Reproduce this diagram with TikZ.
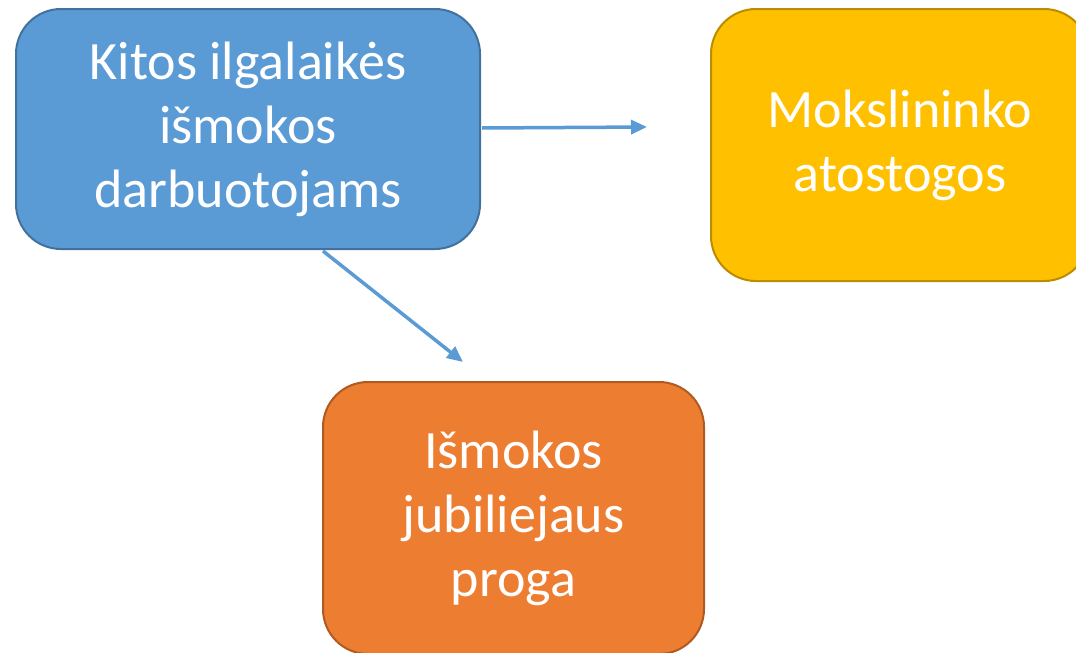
\documentclass[tikz,border=0pt]{standalone}
\usepackage{fontspec}
\setmainfont{Carlito}
\usepackage{xcolor}
\usetikzlibrary{arrows.meta}
\definecolor{bluemain}{HTML}{5B9BD5}
\definecolor{blueedge}{HTML}{41719C}
\definecolor{goldmain}{HTML}{FFC000}
\definecolor{goldedge}{HTML}{BC8C00}
\definecolor{orangemain}{HTML}{ED7D31}
\definecolor{orangeedge}{HTML}{AE5A21}
\tikzset{
    every node/.append style={font=\fontsize{54}{64}\selectfont},
    benefitbox/.style={rectangle, rounded corners=45pt, line width=2pt,
        text=white, align=center, inner sep=0pt},
    linkarrow/.style={-{Triangle[length=16pt, width=14pt]}, line width=3.5pt, color=bluemain}
}

\begin{document}
\begin{tikzpicture}[x=1pt, y=-1pt]
    \useasboundingbox (0,0) rectangle (1076,653);

    % Boxes
    \node[benefitbox, fill=bluemain, draw=blueedge, minimum width=464pt, minimum height=240pt]
        (kitos) at (248,129) {Kitos ilgalaikės\\išmokos\\darbuotojams};
    \node[benefitbox, fill=goldmain, draw=goldedge, minimum width=378pt, minimum height=272pt]
        (mokslo) at (900,145) {Mokslininko\\atostogos};
    \node[benefitbox, fill=orangemain, draw=orangeedge, minimum width=381pt, minimum height=272pt]
        (jubil) at (513.5,518) {Išmokos\\jubiliejaus\\proga};

    % Free arrow ends
    \coordinate (toMokslo) at (647,127);
    \coordinate (toJubil) at (463,362);

    % Arrows
    \draw[linkarrow] (kitos.east) ++(1,-1) -- (toMokslo);
    \draw[linkarrow] (kitos.south) ++(75,1) -- (toJubil);
\end{tikzpicture}
\end{document}
